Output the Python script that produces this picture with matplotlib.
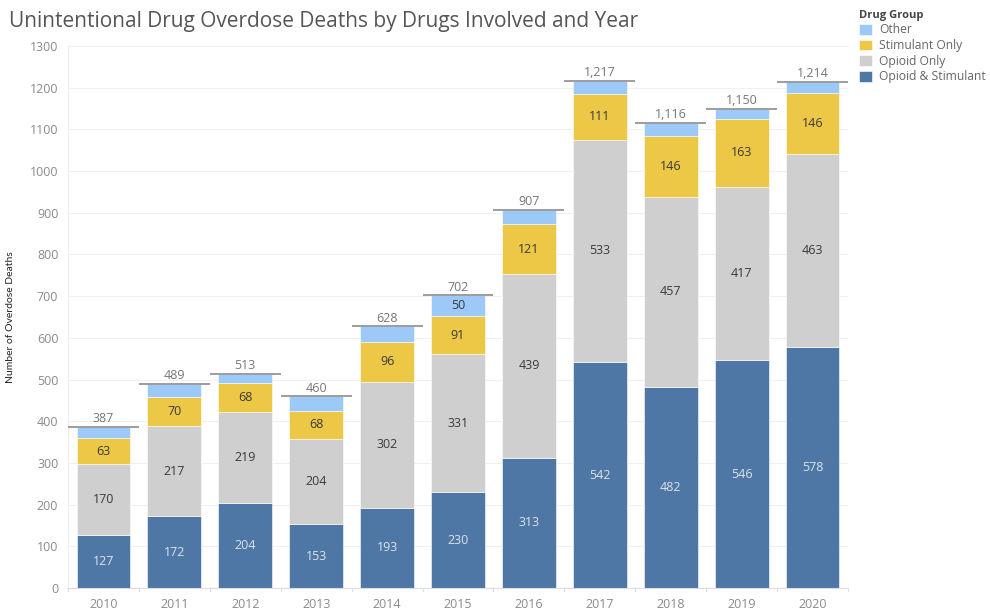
import matplotlib.pyplot as plt
import numpy as np

plt.rcParams['font.family'] = ['Open Sans', 'DejaVu Sans']

years = ["2010", "2011", "2012", "2013", "2014", "2015",
         "2016", "2017", "2018", "2019", "2020"]
opioid_stimulant = [127, 172, 204, 153, 193, 230, 313, 542, 482, 546, 578]
opioid_only = [170, 217, 219, 204, 302, 331, 439, 533, 457, 417, 463]
stimulant_only = [63, 70, 68, 68, 96, 91, 121, 111, 146, 163, 146]
other = [27, 30, 22, 35, 37, 50, 34, 31, 31, 24, 27]

series = [
    ("Opioid & Stimulant", opioid_stimulant, "#4e77a5", "#dde3ee"),
    ("Opioid Only", opioid_only, "#cfcfcf", "#3a3a3a"),
    ("Stimulant Only", stimulant_only, "#ecc846", "#3a3a3a"),
    ("Other", other, "#9cc9f7", "#3a3a3a"),
]

fig = plt.figure(figsize=(9.9, 6.09), dpi=100)
ax = fig.add_axes([68 / 990, 1 - 588 / 609, 780 / 990, 542 / 609])

x = np.arange(len(years))
bottom = np.zeros(len(years))
handles = []
for name, vals, color, txt in series:
    vals = np.array(vals)
    b = ax.bar(x, vals, 0.76, bottom=bottom, color=color, edgecolor="white",
               linewidth=0.4, label=name, zorder=2)
    handles.append(b)
    for xi, v, b0 in zip(x, vals, bottom):
        if v >= 45:
            ax.text(xi, b0 + v / 2, str(v), ha="center", va="center",
                    fontsize=9, color=txt, zorder=3)
    bottom = bottom + vals

totals = bottom
for xi, t in zip(x, totals):
    ax.plot([xi - 0.5, xi + 0.5], [t, t], color="#8c8c8c", lw=1.2, zorder=4,
            solid_capstyle="butt")
    ax.text(xi, t + 4, f"{int(t):,}", ha="center", va="bottom", fontsize=9,
            color="#777777")

ax.set_xlim(-0.5, len(years) - 0.5)
ax.set_ylim(0, 1300)
ax.set_yticks(np.arange(0, 1301, 100))
ax.set_xticks(x)
ax.set_xticklabels(years)
ax.tick_params(axis="y", length=0, pad=7, labelsize=9, labelcolor="#8a8a8a")
ax.tick_params(axis="x", length=0, pad=7, labelsize=9, labelcolor="#8a8a8a")
ax.yaxis.grid(True, color="#f0f0f0", lw=0.8, zorder=0)
ax.set_axisbelow(True)
for s in ["top", "right"]:
    ax.spines[s].set_visible(False)
ax.spines["left"].set_color("#eeeeee")
ax.spines["bottom"].set_color("#dddddd")
# small separators between year cells
for b in np.arange(-0.5, len(years), 1.0):
    ax.plot([b, b], [0, -8], color="#dddddd", lw=0.8, clip_on=False)

ax.set_ylabel("Number of Overdose Deaths", fontsize=7.5,
              family=["Liberation Sans Narrow", "Lato", "DejaVu Sans"],
              color="#222222")
ax.yaxis.set_label_coords(-53 / 780, 0.5)

fig.text(9 / 990, 1 - 22 / 609, "Unintentional Drug Overdose Deaths by Drugs Involved and Year",
         fontsize=15, color="#555555", va="center", ha="left")

leg = fig.legend(handles[::-1], [s[0] for s in series][::-1], loc="upper left",
                 bbox_to_anchor=(854 / 990, 1 - 5 / 609), frameon=False,
                 title="Drug Group", fontsize=8.7, title_fontsize=8,
                 handlelength=1.1, handleheight=1.0, handletextpad=0.55,
                 labelspacing=0.22, borderaxespad=0)
leg.get_title().set_fontweight("bold")
leg.get_title().set_color("#444444")
leg._legend_box.align = "left"
for t in leg.get_texts():
    t.set_color("#666666")

fig.savefig("out.png", dpi=100)
